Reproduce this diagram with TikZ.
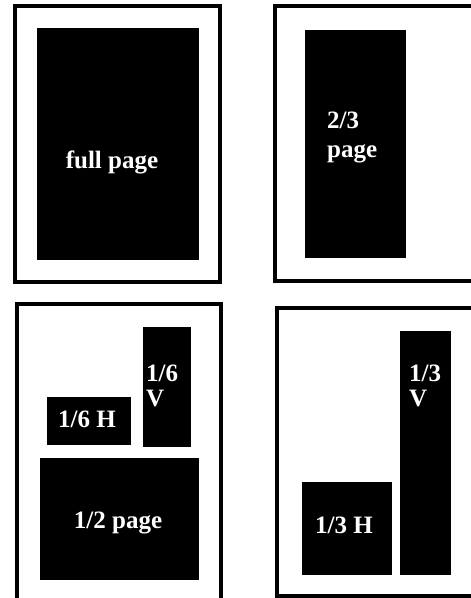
\documentclass[tikz,border=0pt]{standalone}
\usepackage{fontspec}
\setmainfont{Liberation Serif}
\usepackage{tikz}
\usetikzlibrary{
  positioning               % relative placement
}

\begin{document}
\begin{tikzpicture}[x=1pt, y=-1pt,
  page/.style={draw=black, line width=4pt},
  block/.style={fill=black, draw=none, inner sep=0pt, outer sep=0pt},
  lbl/.style={text=white, inner sep=0pt, align=left,
    font=\fontsize{25}{25}\selectfont\bfseries}]
  % picture area, right and bottom pages run past the edge
  \useasboundingbox (0,0) rectangle (471,598);
  \clip (0,0) rectangle (471,598);

  % four page outlines
  \draw[page] (15,6) rectangle (220,282);
  \draw[page] (275,6) rectangle (490,281);
  \draw[page] (16.5,304) rectangle (221,620);
  \draw[page] (277,308) rectangle (490,596);

  % full page
  \node[block, minimum width=162, minimum height=232] (full) at (118,144) {};
  \node[lbl] (fulltxt) at (112,162) {full page};

  % 2/3 page
  \node[block, minimum width=101, minimum height=228] (twothird) at (355.5,144) {};
  \node[lbl, anchor=west, font=\fontsize{25}{29}\selectfont\bfseries]
    (twothirdtxt) at (327,137) {2/3\\page};

  % 1/6 V, 1/6 H and 1/2 page
  \node[block, minimum width=48, minimum height=120] (sixv) at (167,387) {};
  \node[lbl, anchor=west] (sixvtxt) at (146,386) {1/6\\V};
  \node[block, minimum width=84, minimum height=48] (sixh) at (89,421) {};
  \node[lbl] (sixhtxt) at (87,419) {1/6 H};
  \node[block, minimum width=159, minimum height=122] (half) at (119.5,519) {};
  \node[lbl] (halftxt) at (118,523) {1/2 page};

  % 1/3 H and 1/3 V
  \node[block, minimum width=90, minimum height=93] (thirdh) at (347,528.5) {};
  \node[lbl] (thirdhtxt) at (344,525) {1/3 H};
  \node[block, minimum width=51, minimum height=244] (thirdv) at (425.5,453) {};
  \node[lbl, anchor=west] (thirdvtxt) at (409,386) {1/3\\V};
\end{tikzpicture}
\end{document}
